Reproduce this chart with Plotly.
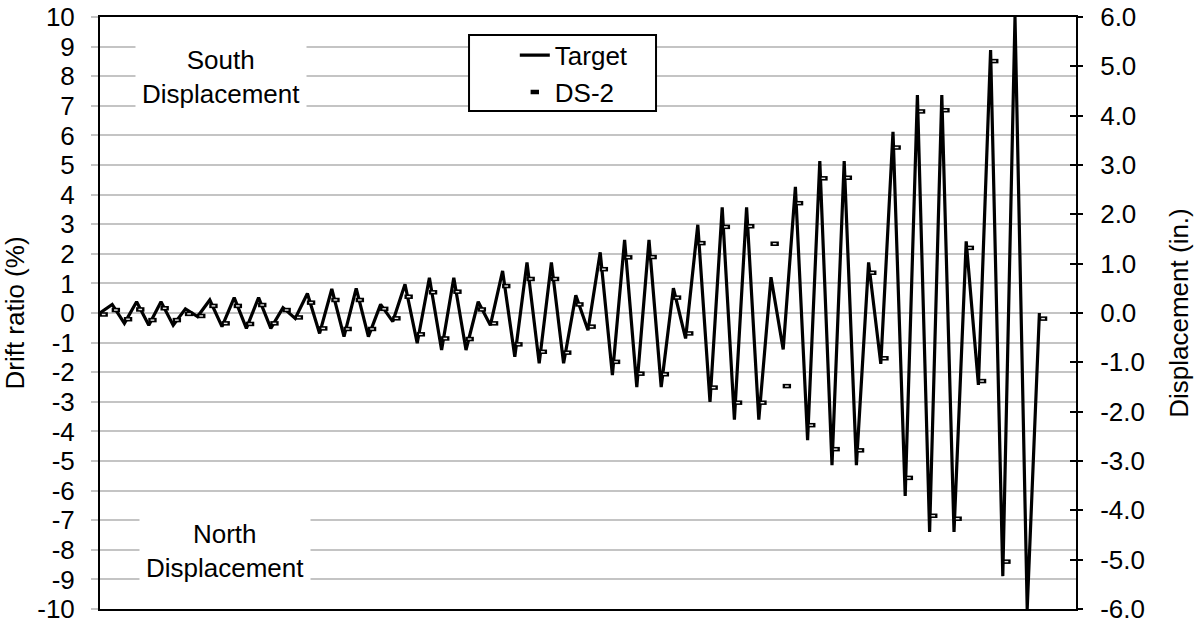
import plotly.graph_objects as go

# Target loading protocol: drift ratio (%) at each reversal point (step index)
target_drift = [
    0.00, 0.29, -0.35, 0.38, -0.41, 0.38, -0.41, 0.14, -0.12,
    0.44, -0.46, 0.52, -0.52, 0.52, -0.52, 0.18, -0.18,
    0.66, -0.69, 0.81, -0.80, 0.83, -0.80, 0.29, -0.29,
    0.97, -1.02, 1.19, -1.25, 1.19, -1.25, 0.38, -0.41,
    1.42, -1.48, 1.71, -1.70, 1.71, -1.70, 0.60, -0.58,
    2.05, -2.10, 2.47, -2.50, 2.47, -2.50, 0.84, -0.86,
    2.98, -3.00, 3.57, -3.60, 3.57, -3.60, 1.21, -1.23,
    4.26, -4.30, 5.13, -5.14, 5.13, -5.14, 1.71, -1.72,
    6.12, -6.18, 7.36, -7.40, 7.36, -7.40, 2.42, -2.43,
    8.88, -8.89, 10.00, -10.00, 0.00,
]
target_step = list(range(len(target_drift)))

# Measured peaks of specimen DS-2 (step index of the reversal, drift ratio %)
ds2_step = list(range(75)) + [77]
ds2_drift = [
    -0.05, 0.10, -0.21, 0.12, -0.24, 0.16, -0.24, -0.03, -0.10,
    0.24, -0.35, 0.24, -0.37, 0.27, -0.35, 0.10, -0.15,
    0.35, -0.52, 0.44, -0.54, 0.44, -0.54, 0.14, -0.18,
    0.55, -0.72, 0.70, -0.86, 0.72, -0.88, 0.12, -0.35,
    0.91, -1.06, 1.15, -1.31, 1.15, -1.34, 0.29, -0.46,
    1.48, -1.65, 1.88, -2.05, 1.89, -2.07, 0.52, -0.69,
    2.36, -2.52, 2.91, -3.03, 2.93, -3.03, 2.34, -2.47,
    3.71, -3.79, 4.55, -4.60, 4.57, -4.64, 1.36, -1.53,
    5.59, -5.57, 6.81, -6.85, 6.85, -6.95, 2.20, -2.30,
    8.51, -8.40,
    -0.19,
]
ds2_lag = 0.3  # measured peak recorded just after the command reversal

drift_ticks = list(range(-10, 11))
drift_labels = [str(v) for v in drift_ticks]
disp_ticks = list(range(-6, 7))
disp_labels = [f"{v:.1f}" for v in disp_ticks]

FONT = "Liberation Sans, Arial, sans-serif"
GRID = "#c4c4c4"

fig = go.Figure()

fig.add_trace(go.Scatter(
    x=target_step, y=target_drift, mode="lines", name="Target",
    line=dict(color="black", width=3.2), legendgroup="a",
))
ds2_x = [s + ds2_lag for s in ds2_step]
fig.add_trace(go.Scatter(
    x=ds2_x, y=ds2_drift, mode="markers", name="DS-2", legendgroup="b",
    marker=dict(symbol="line-ew", size=6, color="black",
                line=dict(color="black", width=4.5)),
))
fig.add_trace(go.Scatter(
    x=ds2_x, y=ds2_drift, mode="markers", showlegend=False, hoverinfo="skip",
    marker=dict(symbol="line-ew", size=2.6, color="#e8e8e8",
                line=dict(color="#e8e8e8", width=1.4)),
))
# helpers so the displacement axes are rendered
fig.add_trace(go.Scatter(x=[0], y=[0], yaxis="y2", mode="markers",
                         marker=dict(opacity=0), showlegend=False, hoverinfo="skip"))
fig.add_trace(go.Scatter(x=[0], y=[0], yaxis="y3", mode="markers",
                         marker=dict(opacity=0), showlegend=False, hoverinfo="skip"))

fig.update_layout(
    width=1202, height=626,
    margin=dict(l=100, r=126, t=17, b=17, autoexpand=False),
    paper_bgcolor="white", plot_bgcolor="white",
    font=dict(family=FONT, size=26, color="black"),
    showlegend=True,
    legend=dict(x=0.425, y=0.975, xanchor="left", yanchor="top",
                bgcolor="rgba(0,0,0,0)", borderwidth=0,
                font=dict(size=26, family=FONT), tracegroupgap=0),
    xaxis=dict(range=[0, 80], showgrid=False, zeroline=False,
               showticklabels=False, ticks="", showline=True,
               linecolor="black", linewidth=2, mirror=True, automargin=False),
    yaxis=dict(range=[-10, 10], tickvals=drift_ticks, ticktext=drift_labels,
               showgrid=True, gridcolor=GRID, gridwidth=1.5, zeroline=False,
               showline=True, linecolor="black", linewidth=2,
               ticks="outside", ticklen=7, tickwidth=1.5, tickcolor=GRID,
               ticklabelstandoff=11, automargin=False,
               title=dict(text="Drift ratio (%)", standoff=24,
                          font=dict(size=26, family=FONT))),
    yaxis2=dict(range=[-6, 6], tickvals=disp_ticks, ticktext=disp_labels,
                overlaying="y", side="right", showgrid=False, zeroline=False,
                showline=True, linecolor="black", linewidth=2,
                ticks="outside", ticklen=5, tickwidth=1.5, tickcolor="black",
                ticklabelstandoff=12, automargin=False,
                title=dict(text="Displacement (in.)", standoff=26,
                           font=dict(size=26, family=FONT))),
    yaxis3=dict(range=[-6, 6], tickvals=disp_ticks, overlaying="y",
                side="right", showgrid=False, zeroline=False,
                showticklabels=False, showline=False, automargin=False,
                ticks="inside", ticklen=6, tickwidth=1.5, tickcolor="black"),
    shapes=[dict(type="rect", xref="paper", yref="paper",
                 x0=0.3781, x1=0.5697, y0=0.8412, y1=0.9696,
                 fillcolor="white", line=dict(color="black", width=2),
                 layer="above")],
    annotations=[
        dict(text="South<br>Displacement", xref="paper", yref="paper",
             x=0.124, y=0.8986, xanchor="center", yanchor="middle",
             showarrow=False, bgcolor="white",
             borderpad=6, font=dict(size=26, family=FONT)),
        dict(text="North<br>Displacement", xref="paper", yref="paper",
             x=0.128, y=0.098, xanchor="center", yanchor="middle",
             showarrow=False, bgcolor="white",
             borderpad=6, font=dict(size=26, family=FONT)),
    ],
)

fig.write_html("out.html")
